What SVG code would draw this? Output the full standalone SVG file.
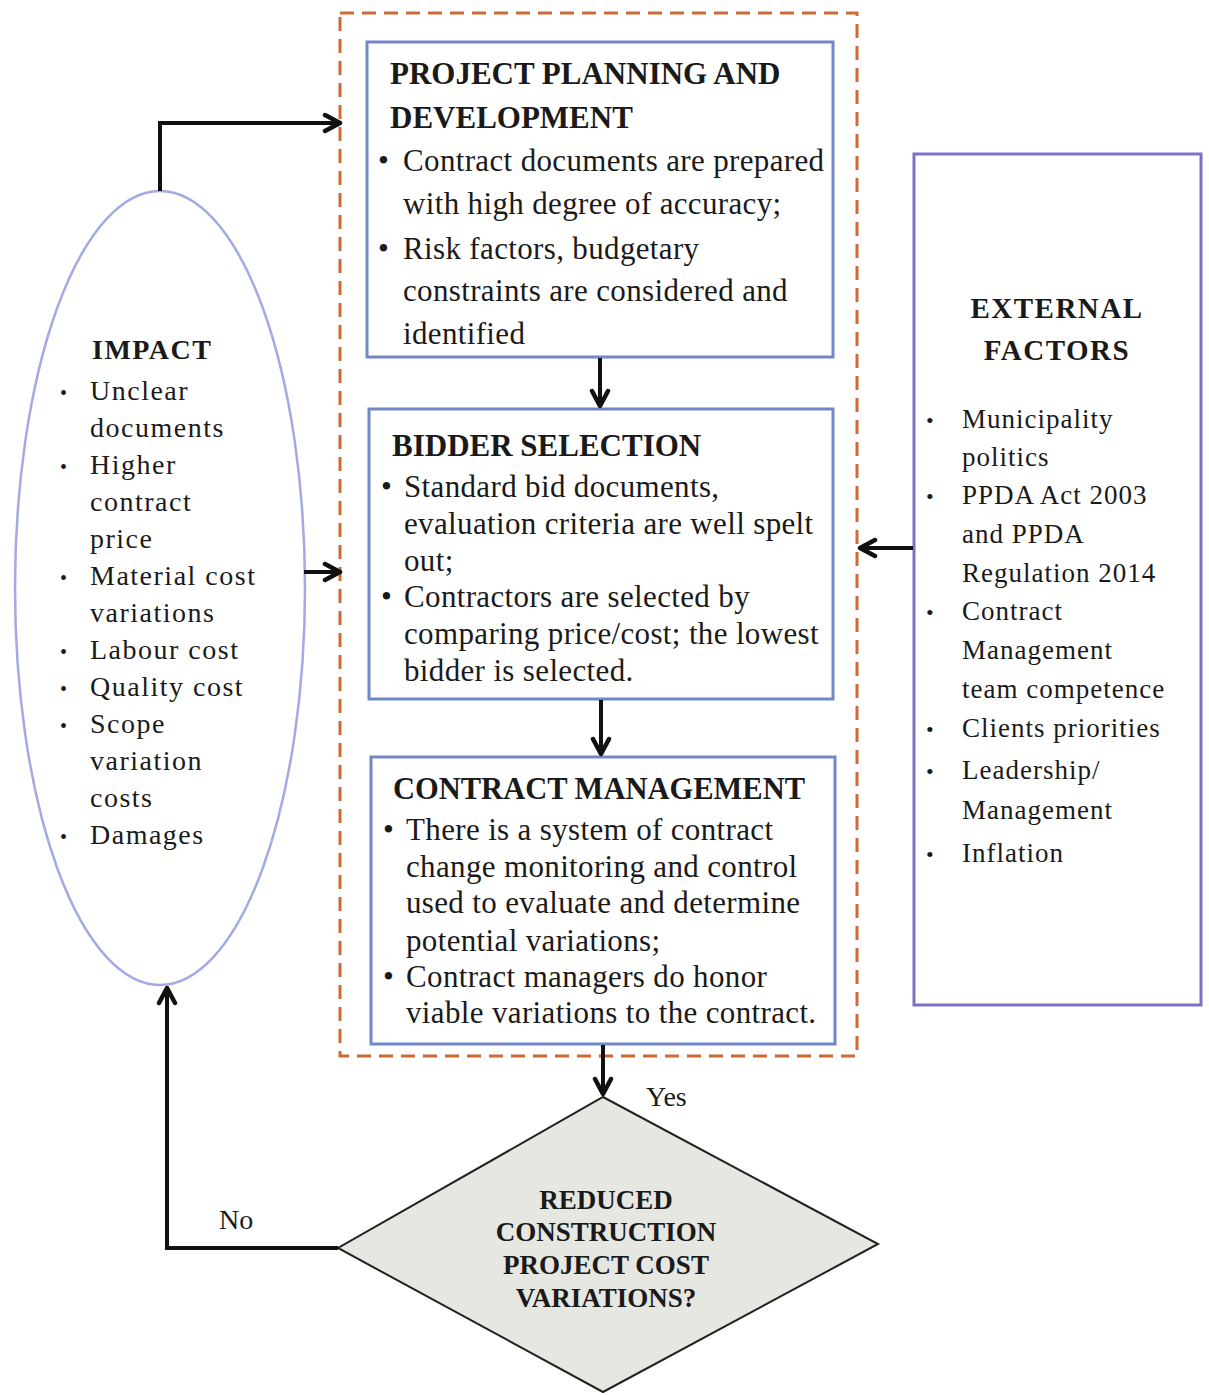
<svg xmlns="http://www.w3.org/2000/svg" width="1209" height="1395" viewBox="0 0 1209 1395">
<style>
text{font-family:"Liberation Serif","Times New Roman",serif;fill:#1a1a1a}
.t{font-weight:bold}
.b1{font-size:31px;letter-spacing:0.35px}
.tt{font-size:31px;font-weight:bold}
.imp{font-size:28px;letter-spacing:1.5px}
.ext{font-size:27px;letter-spacing:1px}
.dia{font-size:27px;font-weight:bold;text-anchor:middle}
.box{fill:#ffffff;stroke:#7088c8;stroke-width:3}
.conn{fill:none;stroke:#111;stroke-width:4}
</style>
<defs>
<marker id="arr" viewBox="0 0 22 22" markerWidth="22" markerHeight="22" markerUnits="userSpaceOnUse" refX="19" refY="11" orient="auto">
<path d="M4,3 L19,11 L4,19" fill="none" stroke="#111" stroke-width="4.5" stroke-linecap="round" stroke-linejoin="round"/>
</marker>
</defs>
<rect width="1209" height="1395" fill="#ffffff"/>

<g id="frame">
<rect x="340" y="13" width="517" height="1043" fill="none" stroke="#cf6a35" stroke-width="3" stroke-dasharray="14 8"/>
</g>

<g id="planning">
<rect class="box" x="367" y="42" width="466" height="315"/>
<text class="tt" x="390" y="84">PROJECT PLANNING AND</text>
<text class="tt" x="390" y="128">DEVELOPMENT</text>
<text class="b1" x="378" y="171">•</text>
<text class="b1" x="403" y="171">Contract documents are prepared</text>
<text class="b1" x="403" y="214">with high degree of accuracy;</text>
<text class="b1" x="378" y="259">•</text>
<text class="b1" x="403" y="259">Risk factors, budgetary</text>
<text class="b1" x="403" y="301">constraints are considered and</text>
<text class="b1" x="403" y="344">identified</text>
</g>

<g id="bidder">
<rect class="box" x="369" y="409" width="464" height="290"/>
<text class="tt" x="392" y="456">BIDDER SELECTION</text>
<text class="b1" x="381" y="497">•</text>
<text class="b1" x="404" y="497">Standard bid documents,</text>
<text class="b1" x="404" y="534">evaluation criteria are well spelt</text>
<text class="b1" x="404" y="571">out;</text>
<text class="b1" x="381" y="607">•</text>
<text class="b1" x="404" y="607">Contractors are selected by</text>
<text class="b1" x="404" y="644">comparing price/cost; the lowest</text>
<text class="b1" x="404" y="681">bidder is selected.</text>
</g>

<g id="contract">
<rect class="box" x="371" y="757" width="464" height="287"/>
<text class="tt" x="393" y="799" style="font-size:30.5px">CONTRACT MANAGEMENT</text>
<text class="b1" x="383" y="840">•</text>
<text class="b1" x="406" y="840">There is a system of contract</text>
<text class="b1" x="406" y="877">change monitoring and control</text>
<text class="b1" x="406" y="913">used to evaluate and determine</text>
<text class="b1" x="406" y="951">potential variations;</text>
<text class="b1" x="383" y="987">•</text>
<text class="b1" x="406" y="987">Contract managers do honor</text>
<text class="b1" x="406" y="1023">viable variations to the contract.</text>
</g>

<g id="impact">
<ellipse cx="160" cy="588" rx="145" ry="397" fill="#ffffff" stroke="#a3aae3" stroke-width="2.5"/>
<text class="imp t" x="92" y="359">IMPACT</text>
<g class="imp">
<text x="60" y="400" style="font-size:20px">•</text><text x="90" y="400">Unclear</text>
<text x="90" y="437">documents</text>
<text x="60" y="474" style="font-size:20px">•</text><text x="90" y="474">Higher</text>
<text x="90" y="511">contract</text>
<text x="90" y="548">price</text>
<text x="60" y="585" style="font-size:20px">•</text><text x="90" y="585">Material cost</text>
<text x="90" y="622">variations</text>
<text x="60" y="659" style="font-size:20px">•</text><text x="90" y="659">Labour cost</text>
<text x="60" y="696" style="font-size:20px">•</text><text x="90" y="696">Quality cost</text>
<text x="60" y="733" style="font-size:20px">•</text><text x="90" y="733">Scope</text>
<text x="90" y="770">variation</text>
<text x="90" y="807">costs</text>
<text x="60" y="844" style="font-size:20px">•</text><text x="90" y="844">Damages</text>
</g>
</g>

<g id="external">
<rect x="914" y="154" width="287" height="851" fill="#ffffff" stroke="#7a72c6" stroke-width="3"/>
<text class="t" x="1057" y="318" text-anchor="middle" style="font-size:29px;letter-spacing:1.5px">EXTERNAL</text>
<text class="t" x="1057" y="360" text-anchor="middle" style="font-size:29px;letter-spacing:1.5px">FACTORS</text>
<g class="ext">
<text x="926" y="428" style="font-size:22px">•</text><text x="962" y="428">Municipality</text>
<text x="962" y="466">politics</text>
<text x="926" y="504" style="font-size:22px">•</text><text x="962" y="504">PPDA Act 2003</text>
<text x="962" y="543">and PPDA</text>
<text x="962" y="582">Regulation 2014</text>
<text x="926" y="620" style="font-size:22px">•</text><text x="962" y="620">Contract</text>
<text x="962" y="659">Management</text>
<text x="962" y="698">team competence</text>
<text x="926" y="737" style="font-size:22px">•</text><text x="962" y="737">Clients priorities</text>
<text x="926" y="779" style="font-size:22px">•</text><text x="962" y="779">Leadership/</text>
<text x="962" y="819">Management</text>
<text x="926" y="862" style="font-size:22px">•</text><text x="962" y="862">Inflation</text>
</g>
</g>

<g id="decision">
<polygon points="603,1097 878,1244 603,1392 338,1248" fill="#e6e7e1" stroke="#222" stroke-width="2"/>
<text class="dia" x="606" y="1209">REDUCED</text>
<text class="dia" x="606" y="1241">CONSTRUCTION</text>
<text class="dia" x="606" y="1274">PROJECT COST</text>
<text class="dia" x="606" y="1307">VARIATIONS?</text>
</g>

<g id="connectors">
<line class="conn" x1="600" y1="358" x2="600" y2="406" marker-end="url(#arr)"/>
<line class="conn" x1="601" y1="700" x2="601" y2="754" marker-end="url(#arr)"/>
<line class="conn" x1="603" y1="1045" x2="603" y2="1094" marker-end="url(#arr)"/>
<path class="conn" d="M338,1248 H167 V988" marker-end="url(#arr)"/>
<path class="conn" d="M160,191 V123 H340" marker-end="url(#arr)"/>
<line class="conn" x1="304" y1="572" x2="340" y2="572" marker-end="url(#arr)"/>
<line class="conn" x1="913" y1="548" x2="860" y2="548" marker-end="url(#arr)"/>
<text x="646" y="1106" style="font-size:28px">Yes</text>
<text x="219" y="1229" style="font-size:28px">No</text>
</g>
</svg>
